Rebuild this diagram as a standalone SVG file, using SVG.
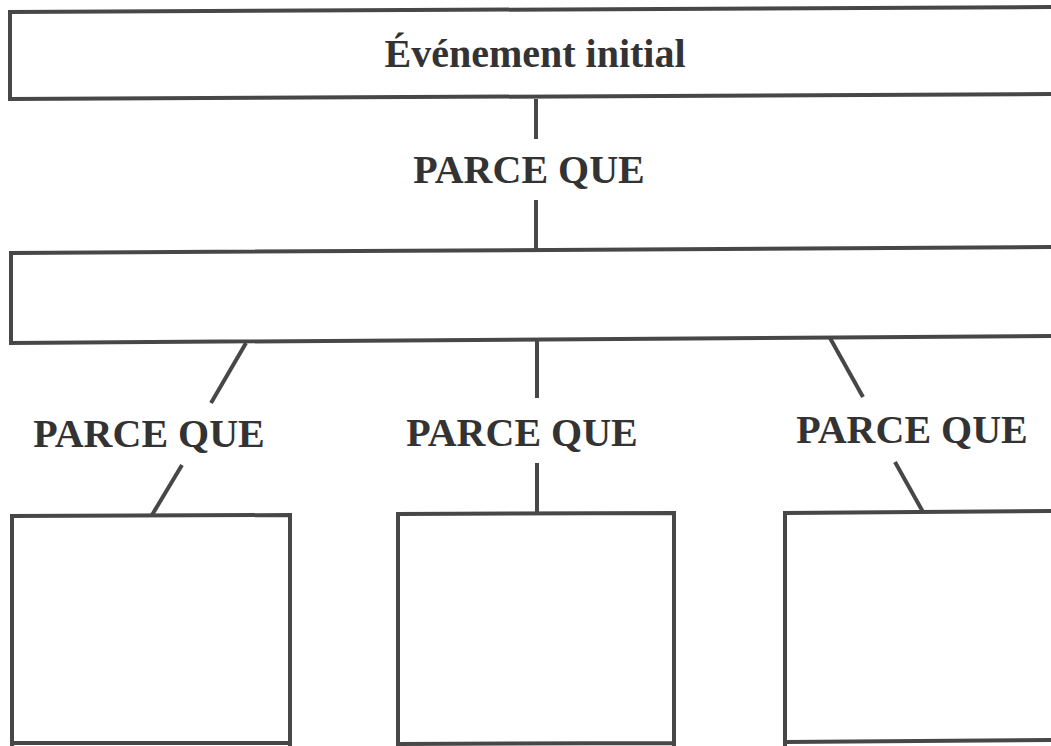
<svg xmlns="http://www.w3.org/2000/svg" width="1051" height="746" viewBox="0 0 1051 746">
<style>
.box{fill:none;stroke:#474747;stroke-width:4;stroke-linejoin:miter}
.edge{fill:none;stroke:#474747;stroke-width:4}
.lbl{font-family:"Liberation Serif","Times New Roman",serif;font-weight:bold;font-size:40px;fill:#333;text-anchor:middle}
</style>
<rect width="1051" height="746" fill="#fff"/>
<g id="connectors">
<line class="edge" x1="536" y1="99" x2="536" y2="139"/>
<line class="edge" x1="536" y1="200" x2="536" y2="249"/>
<line class="edge" x1="246" y1="343" x2="211" y2="403"/>
<line class="edge" x1="182" y1="465" x2="152" y2="515"/>
<line class="edge" x1="537" y1="341" x2="537" y2="398"/>
<line class="edge" x1="537" y1="463" x2="537" y2="513"/>
<line class="edge" x1="830" y1="338" x2="863" y2="397"/>
<line class="edge" x1="895" y1="462" x2="923" y2="512"/>
</g>
<g id="node-initial">
<path class="box" d="M1060,7 L10,12 L10,99 L1060,94"/>
<text class="lbl" x="535" y="67">Événement initial</text>
</g>
<g id="node-middle">
<path class="box" d="M1060,247 L11,253 L11,343 L1060,336"/>
</g>
<g id="label-top"><text class="lbl" x="529" y="183">PARCE QUE</text></g>
<g id="label-left"><text class="lbl" x="149" y="447">PARCE QUE</text></g>
<g id="label-center"><text class="lbl" x="522" y="446">PARCE QUE</text></g>
<g id="label-right"><text class="lbl" x="912" y="443">PARCE QUE</text></g>
<g id="node-left"><path class="box" d="M12,750 L12,516 L290,515 L290,750 M12,743 L290,743"/></g>
<g id="node-center"><path class="box" d="M398,750 L398,514 L674,513 L674,750 M398,744 L674,743"/></g>
<g id="node-right"><path class="box" d="M785,750 L785,513 L1060,511 M785,742 L1060,740"/></g>
</svg>
